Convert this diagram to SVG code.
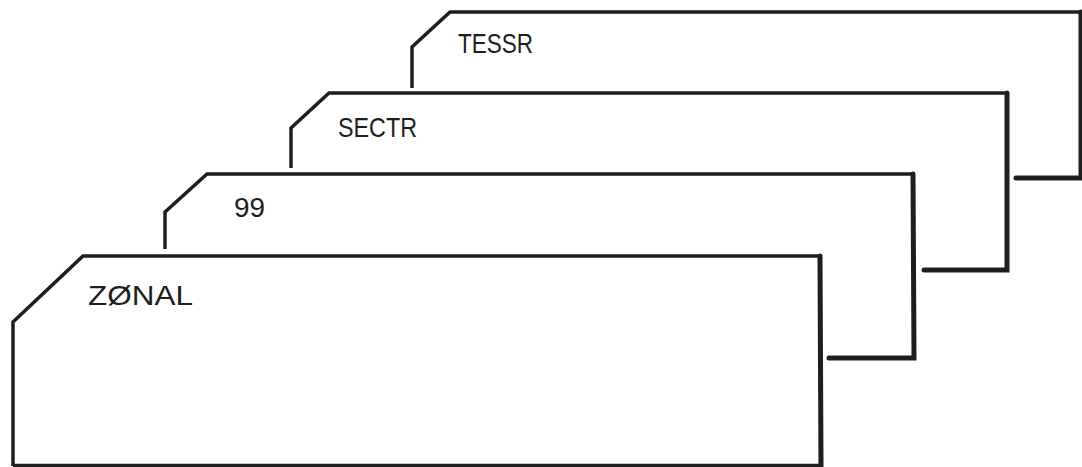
<svg xmlns="http://www.w3.org/2000/svg" width="1082" height="467" viewBox="0 0 1082 467">
<style>
.edge{fill:none;stroke:#1e1e1e;stroke-width:3.5;stroke-linejoin:miter;stroke-linecap:butt}
.side{fill:none;stroke:#1e1e1e;stroke-width:5;stroke-linejoin:miter;stroke-linecap:round}
.lbl{font-family:"Liberation Sans",Arial,sans-serif;font-size:28px;fill:#1e1e1e}
</style>
<rect width="1082" height="467" fill="#ffffff"/>
<g id="card-tessr">
<path class="edge" d="M412,88 L412,47 L450,12 L1081,12"/>
<path class="side" d="M1081,12 L1081,178 L1016,178"/>
<text class="lbl" x="458" y="53" textLength="75" lengthAdjust="spacingAndGlyphs">TESSR</text>
</g>
<g id="card-sectr">
<path class="edge" d="M291,168 L291,128 L329,93 L1007,93"/>
<path class="side" d="M1007,93 L1007,270 L924,270"/>
<text class="lbl" x="338" y="137" textLength="79" lengthAdjust="spacingAndGlyphs">SECTR</text>
</g>
<g id="card-99">
<path class="edge" d="M165,249 L165,212 L207,174 L913,174"/>
<path class="side" d="M913,174 L914,358 L829,358"/>
<text class="lbl" x="234" y="217" textLength="31" lengthAdjust="spacingAndGlyphs">99</text>
</g>
<g id="card-zonal">
<path class="edge" d="M13,466 L13,322 L83,256 L820,256"/>
<path class="side" d="M820,256 L821,467"/>
<path class="edge" d="M13,465.5 L821,465.5"/>
<text class="lbl" x="88" y="305" textLength="105" lengthAdjust="spacingAndGlyphs">ZØNAL</text>
</g>
<g id="connectors"></g>
</svg>
